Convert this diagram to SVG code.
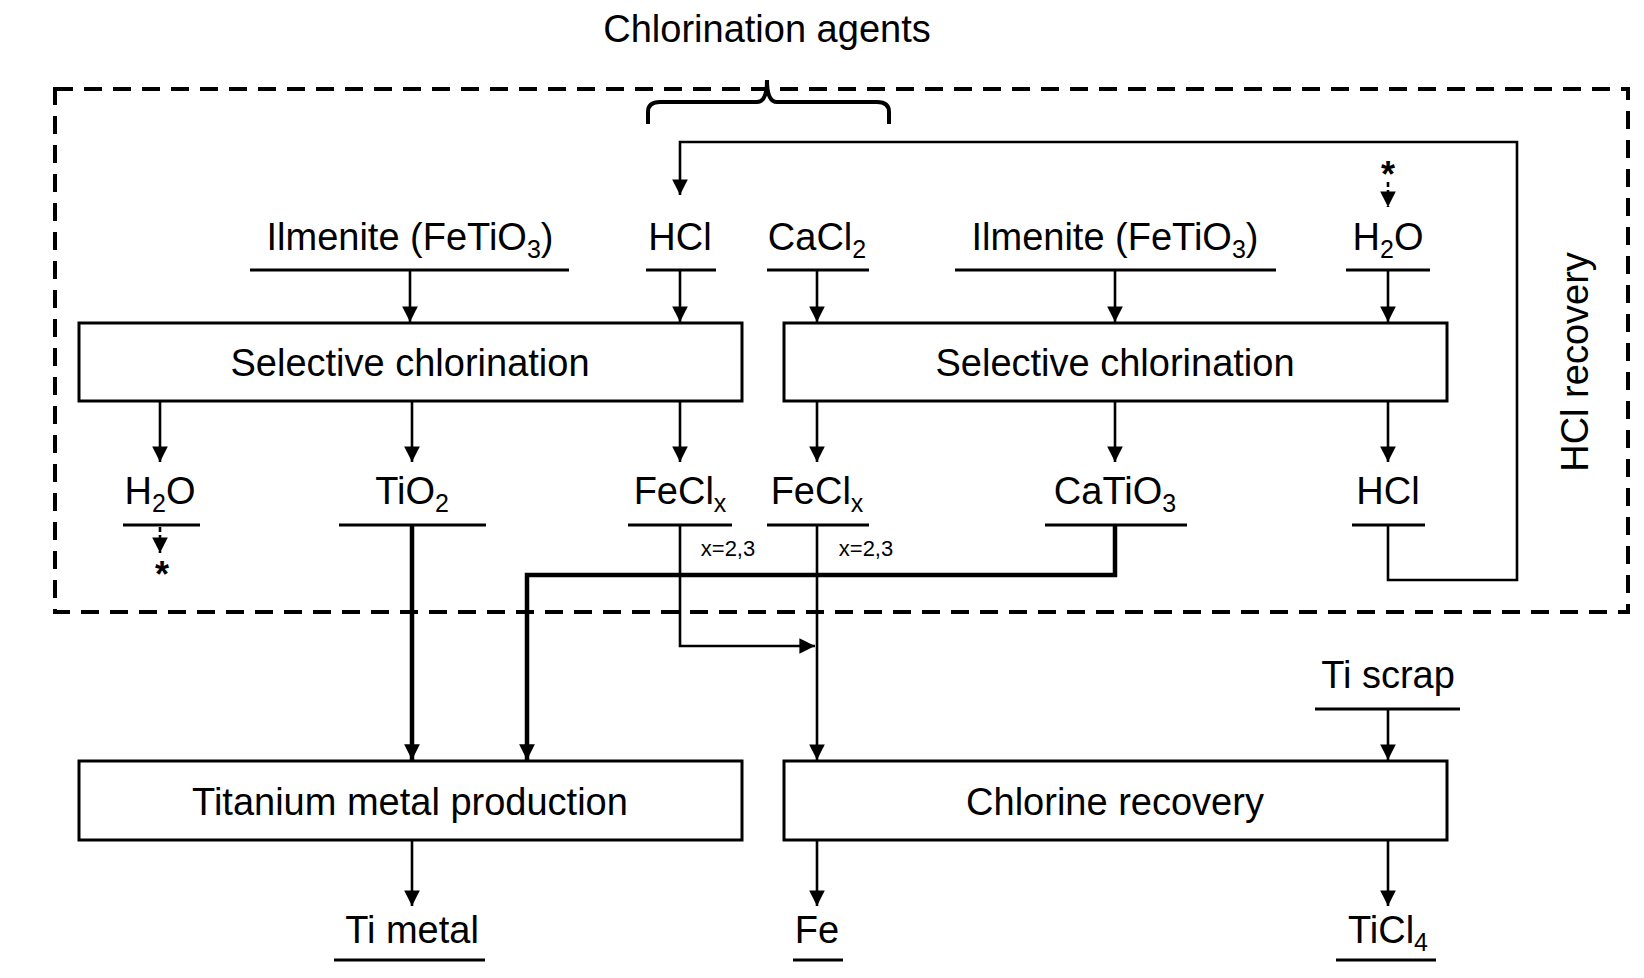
<svg xmlns="http://www.w3.org/2000/svg" width="1644" height="978" viewBox="0 0 1644 978">
<style>
text{font-family:"Liberation Sans",Arial,sans-serif;fill:#000;text-anchor:middle}
.l{font-size:38px}.s{font-size:22px}
.st{font-size:36px;font-weight:bold}
.box{fill:#fff;stroke:#000;stroke-width:3}
.u{stroke:#000;stroke-width:3}
.c{fill:none;stroke:#000;stroke-width:2.6}
.t{fill:none;stroke:#000;stroke-width:4.5}
</style>
<defs><marker id="a" viewBox="0 0 10 10" refX="10" refY="5" markerWidth="7" markerHeight="6" orient="auto" markerUnits="strokeWidth"><path d="M0,0L10,5L0,10z"/></marker>
<marker id="b" viewBox="0 0 10 10" refX="10" refY="5" markerWidth="4" markerHeight="3.5" orient="auto" markerUnits="strokeWidth"><path d="M0,0L10,5L0,10z"/></marker></defs>
<rect x="55" y="89" width="1573" height="523" fill="none" stroke="#000" stroke-width="4" stroke-dasharray="18,11"/>
<text class="l" x="767" y="42">Chlorination agents</text>
<path d="M648,124 V112 Q648,102 660,102 H757 Q767,102 767,80 Q767,102 777,102 H877 Q889,102 889,112 V124" fill="none" stroke="#000" stroke-width="4"/>
<text class="l" transform="translate(1588,362) rotate(-90)">HCl recovery</text>
<g id="connectors">
<path class="c" d="M1388,525 V580 H1517 V142 H680 V195" marker-end="url(#a)"/>
<path class="c" d="M1388,182 V207" stroke-dasharray="5,3" marker-end="url(#a)"/>
<path class="c" d="M160,527 V553" stroke-dasharray="5,3" marker-end="url(#a)"/>
<path class="c" d="M410,270 V322" marker-end="url(#a)"/>
<path class="c" d="M680,270 V322" marker-end="url(#a)"/>
<path class="c" d="M817,270 V322" marker-end="url(#a)"/>
<path class="c" d="M1115,270 V322" marker-end="url(#a)"/>
<path class="c" d="M1388,270 V322" marker-end="url(#a)"/>
<path class="c" d="M160,401 V462" marker-end="url(#a)"/>
<path class="c" d="M412,401 V462" marker-end="url(#a)"/>
<path class="c" d="M680,401 V462" marker-end="url(#a)"/>
<path class="c" d="M817,401 V462" marker-end="url(#a)"/>
<path class="c" d="M1115,401 V462" marker-end="url(#a)"/>
<path class="c" d="M1388,401 V462" marker-end="url(#a)"/>
<path class="t" d="M412,525 V760" marker-end="url(#b)"/>
<path class="t" d="M1115,525 V575 H527 V760" marker-end="url(#b)"/>
<path class="c" d="M680,525 V646 H815" marker-end="url(#a)"/>
<path class="c" d="M817,525 V760" marker-end="url(#a)"/>
<path class="c" d="M1388,709 V760" marker-end="url(#a)"/>
<path class="c" d="M412,840 V906" marker-end="url(#a)"/>
<path class="c" d="M817,840 V906" marker-end="url(#a)"/>
<path class="c" d="M1388,840 V906" marker-end="url(#a)"/>
</g>
<g id="sel1"><rect class="box" x="79" y="323" width="663" height="78"/><text class="l" x="410" y="376">Selective chlorination</text></g>
<g id="sel2"><rect class="box" x="784" y="323" width="663" height="78"/><text class="l" x="1115" y="376">Selective chlorination</text></g>
<g id="timetal"><rect class="box" x="79" y="761" width="663" height="79"/><text class="l" x="410" y="815">Titanium metal production</text></g>
<g id="clrec"><rect class="box" x="784" y="761" width="663" height="79"/><text class="l" x="1115" y="815">Chlorine recovery</text></g>
<g id="ilm1"><text class="l" x="410" y="250">Ilmenite (FeTiO<tspan font-size="25" dy="8">3</tspan><tspan dy="-8">)</tspan></text><line class="u" x1="250" y1="270" x2="569" y2="270"/></g>
<g id="hcl1"><text class="l" x="680" y="250">HCl</text><line class="u" x1="646" y1="270" x2="716" y2="270"/></g>
<g id="cacl2"><text class="l" x="817" y="250">CaCl<tspan font-size="25" dy="8">2</tspan></text><line class="u" x1="767" y1="270" x2="869" y2="270"/></g>
<g id="ilm2"><text class="l" x="1115" y="250">Ilmenite (FeTiO<tspan font-size="25" dy="8">3</tspan><tspan dy="-8">)</tspan></text><line class="u" x1="955" y1="270" x2="1276" y2="270"/></g>
<g id="h2o2"><text class="st" x="1388" y="187">*</text><text class="l" x="1388" y="250">H<tspan font-size="25" dy="8">2</tspan><tspan dy="-8">O</tspan></text><line class="u" x1="1346" y1="270" x2="1430" y2="270"/></g>
<g id="h2o1"><text class="l" x="160" y="504">H<tspan font-size="25" dy="8">2</tspan><tspan dy="-8">O</tspan></text><line class="u" x1="123" y1="525" x2="200" y2="525"/><text class="st" x="162" y="587">*</text></g>
<g id="tio2"><text class="l" x="412" y="504">TiO<tspan font-size="25" dy="8">2</tspan></text><line class="u" x1="339" y1="525" x2="486" y2="525"/></g>
<g id="fecl1"><text class="l" x="680" y="504">FeCl<tspan font-size="25" dy="8">x</tspan></text><line class="u" x1="628" y1="525" x2="732" y2="525"/><text class="s" x="728" y="556">x=2,3</text></g>
<g id="fecl2"><text class="l" x="817" y="504">FeCl<tspan font-size="25" dy="8">x</tspan></text><line class="u" x1="767" y1="525" x2="869" y2="525"/><text class="s" x="866" y="556">x=2,3</text></g>
<g id="catio3"><text class="l" x="1115" y="504">CaTiO<tspan font-size="25" dy="8">3</tspan></text><line class="u" x1="1045" y1="525" x2="1187" y2="525"/></g>
<g id="hcl2"><text class="l" x="1388" y="504">HCl</text><line class="u" x1="1352" y1="525" x2="1425" y2="525"/></g>
<g id="tiscrap"><text class="l" x="1388" y="688">Ti scrap</text><line class="u" x1="1315" y1="709" x2="1460" y2="709"/></g>
<g id="timet"><text class="l" x="412" y="943">Ti metal</text><line class="u" x1="334" y1="960" x2="485" y2="960"/></g>
<g id="fe"><text class="l" x="817" y="943">Fe</text><line class="u" x1="793" y1="960" x2="843" y2="960"/></g>
<g id="ticl4"><text class="l" x="1388" y="943">TiCl<tspan font-size="25" dy="8">4</tspan></text><line class="u" x1="1336" y1="960" x2="1436" y2="960"/></g>
</svg>
